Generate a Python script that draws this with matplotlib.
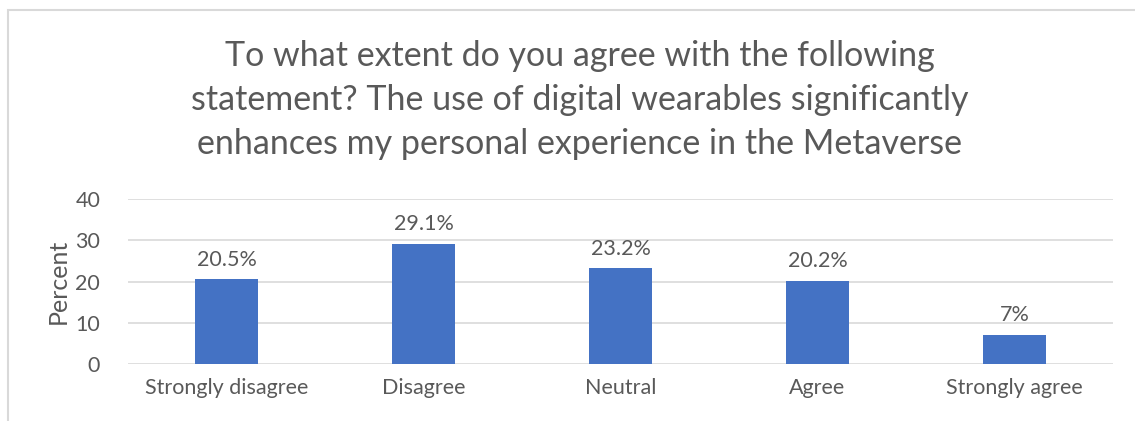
import matplotlib.pyplot as plt
from matplotlib.patches import Rectangle

plt.rcParams['font.family'] = ['Lato', 'DejaVu Sans']

categories = ['Strongly disagree', 'Disagree', 'Neutral', 'Agree', 'Strongly agree']
percent = [20.5, 29.1, 23.2, 20.2, 7]
labels = ['20.5%', '29.1%', '23.2%', '20.2%', '7%']
yticks = [0, 10, 20, 30, 40]

title = ('To what extent do you agree with the following\n'
         'statement? The use of digital wearables significantly\n'
         'enhances my personal experience in the Metaverse')

txt = '#595959'
grid = '#D9D9D9'

fig = plt.figure(figsize=(11.35, 4.21), dpi=100)
# chart frame
fig.patches.append(Rectangle((8 / 1135, -0.05), 1.2, 1.05 - 10 / 421,
                             transform=fig.transFigure, fill=False,
                             edgecolor='#D9D9D9', linewidth=1.5))

ax = fig.add_axes([128 / 1135, 1 - 364 / 421, (1113 - 128) / 1135, (364 - 199) / 421])
x = range(len(categories))
ax.bar(x, percent, width=0.315, color='#4472C4', zorder=3)
for i, (v, s) in enumerate(zip(percent, labels)):
    ax.annotate(s, (i, v), xytext=(0, 7), textcoords='offset points',
                ha='center', va='bottom', fontsize=15.5, color=txt)

ax.set_xlim(-0.5, len(categories) - 0.5)
ax.set_ylim(0, 40)
ax.set_yticks(yticks)
ax.set_xticks(list(x))
ax.set_xticklabels(categories)
ax.tick_params(axis='both', length=0, labelsize=15.5, labelcolor=txt)
ax.tick_params(axis='x', pad=10)
ax.tick_params(axis='y', pad=20)
ax.yaxis.grid(True, color=grid, linewidth=1.2, zorder=0)
for sp in ax.spines.values():
    sp.set_visible(False)
ax.set_ylabel('Percent', fontsize=18, color=txt, labelpad=4)

fig.text(0.511, 1 - 100 / 421, title, ha='center', va='center',
         fontsize=24.5, color=txt, linespacing=1.45)

fig.savefig('out.png', dpi=100)
